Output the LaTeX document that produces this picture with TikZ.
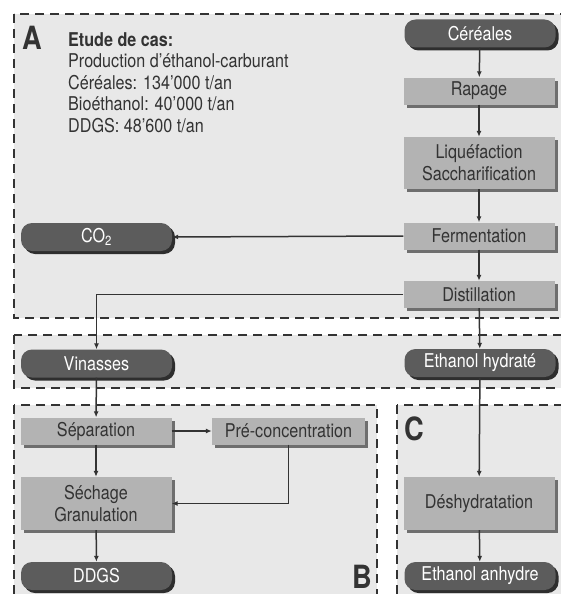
\documentclass[tikz,border=0pt]{standalone}
\usepackage{fontspec}
\setmainfont{TeX Gyre Heros}[FakeStretch=0.85]
\usetikzlibrary{arrows.meta}

\definecolor{zonegris}{HTML}{E8E8E8}
\definecolor{boite}{HTML}{B3B3B3}
\definecolor{ombreclaire}{HTML}{6E6E6E}
\definecolor{fonce}{HTML}{5C5C5C}
\definecolor{ombrefonce}{HTML}{2E2E2E}
\definecolor{trait}{HTML}{333333}

\tikzset{
  zone/.style={draw=trait, fill=zonegris, line width=2.5pt, dash pattern=on 9pt off 6pt},
  etape/.style={fill=boite, minimum width=151pt, minimum height=27pt, inner sep=0pt, align=center,
    font=\fontsize{19}{22}\selectfont, text=trait,
    preaction={fill=ombreclaire, transform canvas={shift={(3pt,-3pt)}}}},
  produit/.style={fill=fonce, text=white, rounded corners=11pt, minimum width=151pt, minimum height=28pt,
    inner sep=0pt, font=\fontsize{19}{22}\selectfont,
    preaction={fill=ombrefonce, transform canvas={shift={(3pt,-3pt)}}}},
  lettre/.style={anchor=base west, inner sep=0pt, text=trait, font=\fontsize{32}{32}\bfseries\selectfont},
  fleche/.style={draw=trait, line width=1.5pt, -{Latex[length=6pt,width=5pt]}}
}

\begin{document}
\begin{tikzpicture}[x=1pt, y=-1pt]
    \useasboundingbox (0,0) rectangle (561,594);
    \clip (0,0) rectangle (561,594);

    % Zones
    \draw[zone] (14,14) rectangle (580,318);
    \draw[zone] (14,335) rectangle (580,388);
    \draw[zone] (14,405) rectangle (377,620);
    \draw[zone] (397,405) rectangle (580,620);

    \node[lettre] (lA) at (22,50) {A};
    \node[lettre] (lB) at (352,588) {B};
    \node[lettre] (lC) at (404,440) {C};

    % Etude de cas
    \node[anchor=north west, inner sep=0pt, align=left, text=trait,
          font=\fontsize{19}{21.5}\selectfont] (cas) at (68,32)
        {\textbf{Etude de cas:}\\
         Production d’éthanol-carburant\\
         Céréales: 134’000 t/an\\
         Bioéthanol: 40’000 t/an\\
         DDGS: 48’600 t/an};

    % Chaine principale
    \node[produit] (cer) at (480,33.5) {Céréales};
    \node[etape] (rap) at (479,91) {Rapage};
    \node[etape, minimum height=52pt] (liq) at (479,163) {Liquéfaction\\Saccharification};
    \node[etape] (fer) at (479,236) {Fermentation};
    \node[etape] (dis) at (479,294.5) {Distillation};
    \node[produit] (eth) at (480,363) {Ethanol hydraté};
    \node[produit] (co2) at (96.5,237) {CO\textsubscript{2}};
    \node[produit] (vin) at (96.5,363.5) {Vinasses};

    % Zone B
    \node[etape] (sep) at (96,431) {Séparation};
    \node[etape, minimum width=153pt] (pre) at (288.5,431) {Pré-concentration};
    \node[etape, minimum height=53pt] (sec) at (96,503.5) {Séchage\\Granulation};
    \node[produit] (ddgs) at (96.5,576) {DDGS};

    % Zone C
    \node[etape, minimum height=53pt] (des) at (479,503.5) {Déshydratation};
    \node[produit] (anh) at (480,576) {Ethanol anhydre};

    % Fleches
    \draw[fleche] (cer) -- (rap);
    \draw[fleche] (rap) -- (liq);
    \draw[fleche] (liq) -- (fer);
    \draw[fleche] (fer) -- (dis);
    \draw[fleche] (dis) -- (eth);
    \draw[fleche] (fer.west) -- (co2.east);
    \draw[fleche] (dis.west) -| (vin.north);
    \draw[fleche] (eth) -- (des);
    \draw[fleche] (des) -- (anh);
    \draw[fleche] (vin) -- (sep);
    \draw[fleche] (sep) -- (sec);
    \draw[fleche] (sep) -- (pre);
    \draw[fleche] (pre.south) |- (sec.east);
    \draw[fleche] (sec) -- (ddgs);
\end{tikzpicture}
\end{document}
